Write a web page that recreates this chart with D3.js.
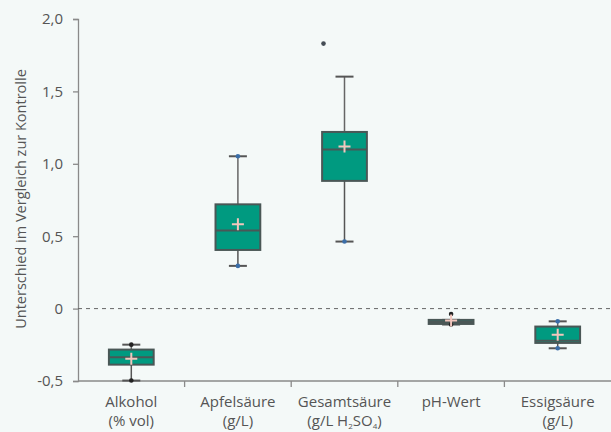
<!DOCTYPE html>
<html><head><meta charset="utf-8">
<script src="https://cdn.jsdelivr.net/npm/d3@7"></script>
<style>
html,body{margin:0;padding:0;background:#f4f9f8;}
svg{display:block;font-family:"Open Sans",sans-serif;}
</style></head><body>
<svg id="c" width="611" height="432"></svg>
<script>
const categories = ["Alkohol","Apfelsäure","Gesamtsäure","pH-Wert","Essigsäure"];
const labelLine2 = ["(% vol)","(g/L)","(g/L H2SO4)","","(g/L)"];
const whiskerLow  = [-0.497, 0.295, 0.463, -0.110, -0.274];
const q1          = [-0.387, 0.405, 0.882, -0.106, -0.237];
const median      = [-0.336, 0.539, 1.098, -0.092, -0.222];
const q3          = [-0.283, 0.720, 1.220, -0.078, -0.124];
const whiskerHigh = [-0.249, 1.052, 1.602, -0.078, -0.088];
const means       = [-0.347, 0.582, 1.119, -0.083, -0.180];
const outliers    = [[], [], [1.830], [-0.037], []];
const endDotLow   = [true, true, true, true, true];
const endDotHigh  = [true, true, false, false, true];
const dotColor    = ["#222","#3b6ea8","#3b6ea8","#222","#3b6ea8"];
const yTicks = [-0.5, 0, 0.5, 1.0, 1.5, 2.0];

const svg = d3.select("#c");
const W = 611, H = 432;
const m = {l:78, r:0, t:19, b:51};
const x = d3.scaleBand().domain(categories).range([m.l, W - m.r]).padding(0);
const y = d3.scaleLinear().domain([-0.5, 2.0]).range([H - m.b, m.t]);
const textCol = "#555";
const axisCol = "#8a8a8a";

// y axis
const yAxis = d3.axisLeft(y).tickValues(yTicks).tickSize(5).tickPadding(10)
  .tickFormat(d => d === 0 ? "0" : d.toFixed(1).replace(".", ","));
const gy = svg.append("g").attr("transform", `translate(${m.l},0)`).call(yAxis);
gy.select(".domain").attr("stroke", axisCol).attr("stroke-width", 1.3);
gy.selectAll(".tick line").attr("stroke", axisCol).attr("stroke-width", 1.3);
gy.selectAll(".tick text").attr("fill", textCol).style("font-size", "15px").style("font-family", "Open Sans");

// x axis line
svg.append("line").attr("x1", m.l).attr("x2", W).attr("y1", y(-0.5)).attr("y2", y(-0.5))
  .attr("stroke", axisCol).attr("stroke-width", 1.5);
// boundary ticks
categories.slice(1).forEach(c => {
  svg.append("line").attr("x1", x(c)).attr("x2", x(c)).attr("y1", y(-0.5)).attr("y2", y(-0.5) + 6)
    .attr("stroke", axisCol).attr("stroke-width", 1.3);
});

// zero line
svg.append("line").attr("x1", m.l).attr("x2", W).attr("y1", y(0)).attr("y2", y(0))
  .attr("stroke", "#666").attr("stroke-width", 1).attr("stroke-dasharray", "4,4");

// x labels
categories.forEach((c, i) => {
  const cx = x(c) + x.bandwidth() / 2;
  svg.append("text").attr("x", cx).attr("y", 407).attr("text-anchor", "middle")
    .attr("fill", textCol).style("font-size", "15px").text(c);
  const l2 = labelLine2[i];
  if (!l2) return;
  const t = svg.append("text").attr("x", cx).attr("y", 426).attr("text-anchor", "middle")
    .attr("fill", textCol).style("font-size", "15px");
  const m2 = l2.match(/^(.*H)2(SO)4(\))$/);
  if (m2) {
    t.append("tspan").text(m2[1]);
    t.append("tspan").attr("dy", 3).style("font-size", "8px").text("2");
    t.append("tspan").attr("dy", -3).text(m2[2]);
    t.append("tspan").attr("dy", 3).style("font-size", "8px").text("4");
    t.append("tspan").attr("dy", -3).text(m2[3]);
  } else t.text(l2);
});

// y title
svg.append("text").attr("transform", `translate(26,${(y(2) + y(-0.5)) / 2 - 1}) rotate(-90)`)
  .attr("text-anchor", "middle").attr("fill", textCol).style("font-size", "14.5px")
  .text("Unterschied im Vergleich zur Kontrolle");

// boxes
const boxW = x.bandwidth() * 0.42, capW = 18;
const g = svg.append("g");
categories.forEach((c, i) => {
  const cx = x(c) + x.bandwidth() / 2;
  // whiskers
  g.append("line").attr("x1", cx).attr("x2", cx).attr("y1", y(whiskerHigh[i])).attr("y2", y(q3[i]))
    .attr("stroke", "#666").attr("stroke-width", 1.5);
  g.append("line").attr("x1", cx).attr("x2", cx).attr("y1", y(q1[i])).attr("y2", y(whiskerLow[i]))
    .attr("stroke", "#555").attr("stroke-width", 1.5);
  [whiskerHigh[i], whiskerLow[i]].forEach(v => {
    g.append("line").attr("x1", cx - capW / 2).attr("x2", cx + capW / 2).attr("y1", y(v)).attr("y2", y(v))
      .attr("stroke", "#555").attr("stroke-width", 2);
  });
  // box
  g.append("rect").attr("x", cx - boxW / 2).attr("width", boxW)
    .attr("y", y(q3[i])).attr("height", Math.max(y(q1[i]) - y(q3[i]), 1))
    .attr("fill", "#009a80").attr("stroke", "#4a5756").attr("stroke-width", 2);
  g.append("line").attr("x1", cx - boxW / 2).attr("x2", cx + boxW / 2).attr("y1", y(median[i])).attr("y2", y(median[i]))
    .attr("stroke", "#4a5756").attr("stroke-width", 2);
  // end dots
  if (endDotHigh[i]) g.append("circle").attr("cx", cx).attr("cy", y(whiskerHigh[i])).attr("r", 2.3).attr("fill", dotColor[i]);
  if (endDotLow[i]) g.append("circle").attr("cx", cx).attr("cy", y(whiskerLow[i])).attr("r", 2.3).attr("fill", dotColor[i]);
  // outliers
  outliers[i].forEach(v => {
    g.append("circle").attr("cx", cx - (i === 2 ? 21 : 0)).attr("cy", y(v)).attr("r", 2.3).attr("fill", i === 2 ? "#444c55" : "#222");
  });
  // mean cross
  const my = y(means[i]);
  g.append("path").attr("d", `M${cx - 6},${my}H${cx + 6}M${cx},${my - 6}V${my + 6}`)
    .attr("stroke", "#f2c6bd").attr("stroke-width", 2);
});
</script>
</body></html>
